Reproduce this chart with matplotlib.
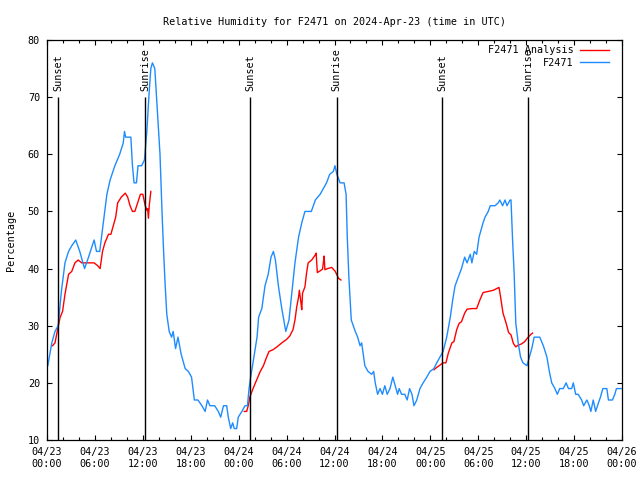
"""
plot.py - relative humidity for station F2471, observed vs analysis, with sunset/sunrise markers.
"""

from datetime import datetime, timedelta

import numpy as np
import matplotlib
matplotlib.use("Agg")
import matplotlib.pyplot as plt
import matplotlib.dates as mdates

START = datetime(2024, 4, 23)
NAN = float("nan")

# observed RH (hours since 04/23 00:00 UTC, percent)
blue_hours = [
    0.1, 0.6, 1.0, 1.4, 1.8, 2.25, 2.7, 3.1, 3.6, 4.1, 4.7, 5.2, 5.9, 6.2, 6.6,
    7.05, 7.5, 7.9, 8.5, 9.1, 9.55, 9.7, 9.85, 10.1, 10.5, 10.7, 10.9, 11.2, 11.4,
    11.85, 12.2, 12.5, 12.8, 13.0, 13.2, 13.5, 13.85, 14.15, 14.4, 14.6, 14.8,
    15.0, 15.3, 15.6, 15.8, 16.1, 16.4, 16.8, 17.3, 17.7, 18.1, 18.45, 18.9, 19.4,
    19.8, 20.1, 20.4, 21.0, 21.45, 21.75, 22.1, 22.5, 22.7, 23.0, 23.25, 23.45,
    23.75, 23.95, 24.4, 24.8, 25.1, 25.3, 25.5, 25.85, 26.3, 26.5, 26.9, 27.3,
    27.7, 28.05, 28.35, 28.6, 28.97, 29.4, 29.9, 30.3, 30.6, 31.05, 31.5, 31.9,
    32.3, 33.1, 33.6, 34.2, 34.6, 35.0, 35.4, 35.85, 36.06, 36.3, 36.7, 37.2,
    37.45, 37.6, 37.8, 38.1, 38.6, 38.9, 39.2, 39.4, 39.6, 39.8, 40.2, 40.65,
    40.9, 41.1, 41.4, 41.7, 42.0, 42.3, 42.6, 42.95, 43.3, 43.6, 43.9, 44.1,
    44.4, 44.8, 45.1, 45.4, 45.7, 45.95, 46.3, 46.7, 47.1, 47.55, 47.96, 48.45,
    48.8, 49.2, 49.6, 50.05, 50.5, 50.8, 51.1, 51.5, 51.9, 52.3, 52.6, 53.0,
    53.2, 53.5, 53.8, 54.1, 54.6, 54.85, 55.25, 55.5, 56.1, 56.5, 56.7, 57.05,
    57.35, 57.6, 57.98, 58.1, 58.3, 58.5, 58.7, 59.0, 59.3, 59.6, 60.1, 60.4,
    60.7, 61.0, 61.7, 62.15, 62.6, 62.9, 63.2, 63.6, 63.9, 64.2, 64.65, 65.0,
    65.3, 65.7, 65.9, 66.2, 66.5, 66.95, 67.2, 67.6, 67.9, 68.1, 68.4, 68.7,
    69.05, 69.3, 69.6, 70.1, 70.3, 70.8, 71.1, 71.3, 71.9,
]
blue_rh = [
    23, 27, 29, 30, 36, 41, 43, 44, 45, 43, 40, 42, 45, 43, 43,
    48, 53, 55.5, 58, 60, 62, 64, 63, 63, 63, 58, 55, 55, 58,
    58, 59, 64, 71, 75, 76, 75, 67, 60, 50, 43, 37,
    32, 29, 28, 29, 26, 28, 25, 22.5, 22, 21, 17, 17, 16,
    15, 17, 16, 16, 15, 14, 16, 16, 14, 12, 13, 12,
    12, 14, 15, 16, 16, 19, 21, 24, 28, 31.5, 33, 37,
    39, 42, 43, 41.5, 37, 33, 29, 31, 35, 41, 45.5, 48,
    50, 50, 52, 53, 54, 55, 56.5, 57, 58, 56.5, 55, 55,
    53, 45.5, 38.5, 31, 29, 28, 26.5, 27, 25, 23, 22, 21.5,
    22, 20, 18, 19, 18, 19.5, 18, 19, 21, 19.5, 18, 19,
    18, 18, 17, 19, 18, 16, 17, 19, 20, 21, 22, 22.5,
    23.5, 24.5, 25.5, 28, 31.5, 34.5, 37, 38.5, 40, 42, 41, 42.5,
    41, 43, 42.5, 45.5, 48, 49, 50, 51, 51, 51.5, 52, 51,
    52, 51, 52, 52, 45, 39, 30.5, 27, 24.5, 23.5, 23, 24.5,
    26, 28, 28, 26.5, 24.5, 22, 20, 19, 18, 19, 19, 20,
    19, 19, 20, 18, 18, 17, 16, 17, 16, 15, 17, 15,
    16.5, 17.5, 19, 19, 17, 17, 18, 19, 19,
]

# analysis RH, NaN marks the gaps between the three daytime runs
red_hours = [
    0.7, 1.0, 1.35, 1.65, 1.95, 2.25, 2.7, 3.1, 3.5, 3.9, 4.35, 4.75, 5.4, 5.9,
    6.35, 6.65, 6.95, 7.25, 7.7, 8.0, 8.3, 8.6, 8.85, 9.3, 9.8, 10.1, 10.4, 10.7,
    11.0, 11.35, 11.7, 12.0, 12.3, 12.5, 12.6, 12.7, 12.8, 13.0,
    18.0,
    24.7, 25.0, 25.2, 25.4, 25.8, 26.25, 26.7, 27.1, 27.5, 27.8, 28.3, 28.8, 29.4,
    30.0, 30.4, 30.8, 31.05, 31.27, 31.5, 31.6, 31.8, 31.9, 32.0, 32.3, 32.5,
    32.7, 33.15, 33.6, 33.7, 33.85, 34.2, 34.5, 34.6, 34.7, 34.8, 35.15, 35.65,
    36.1, 36.5, 36.8,
    42.0,
    48.45, 48.8, 49.2, 49.6, 49.95, 50.25, 50.7, 50.95, 51.3, 51.6, 51.9, 52.3,
    52.6, 53.2, 53.8, 54.2, 54.6, 55.25, 55.9, 56.3, 56.6, 56.8, 57.1, 57.5,
    57.8, 58.1, 58.4, 58.7, 59.0, 59.4, 59.8, 60.2, 60.6, 60.8,
]
red_rh = [
    26.5, 27, 29.5, 31.5, 32.5, 35.5, 39, 39.5, 41, 41.5, 41, 41, 41, 41,
    40.5, 40, 43, 44.5, 46, 46, 47.5, 49, 51.5, 52.5, 53.2, 52.5, 51, 50,
    50, 51.5, 53, 53, 51, 50.2, 50.5, 48.8, 51, 53.5,
    NAN,
    15, 15, 16, 17.5, 19, 20.5, 22, 23, 24.5, 25.5, 25.8, 26.3, 27,
    27.6, 28.2, 29.3, 31, 33.3, 35, 36.2, 34, 32.8, 35.7, 36.8, 39.2,
    41, 41.5, 42.4, 42.7, 39.3, 39.6, 39.9, 41, 42.2, 39.8, 40, 40.2,
    39.5, 38.3, 38,
    NAN,
    22.3, 22.7, 23.1, 23.5, 23.5, 25.2, 27, 27.2, 29.3, 30.4, 30.7, 32.2,
    32.9, 33, 33, 34.5, 35.8, 36, 36.2, 36.5, 36.7, 35, 32.2, 30.4,
    28.8, 28.4, 26.9, 26.3, 26.6, 26.8, 27.2, 27.9, 28.5, 28.7,
]

sun_labels = ["Sunset", "Sunrise", "Sunset", "Sunrise", "Sunset", "Sunrise"]
sun_times = ["2024-04-23 01:25", "2024-04-23 12:18", "2024-04-24 01:27",
             "2024-04-24 12:17", "2024-04-25 01:28", "2024-04-25 12:15"]

BLUE = "#1e8cff"
RED = "#ff0000"
FONT = "DejaVu Sans Mono"
FS = 7.3


def to_times(hours):
    return [START + timedelta(hours=h) for h in hours]


fig = plt.figure(figsize=(6.4, 4.8), dpi=100)
ax = fig.add_axes([47 / 640, 40 / 480, 575 / 640, 400 / 480])

ax.plot(to_times(red_hours), np.array(red_rh, dtype=float), color=RED,
        lw=1.0, label="F2471 Analysis")
ax.plot(to_times(blue_hours), blue_rh, color=BLUE, lw=1.0, label="F2471")

for lab, t in zip(sun_labels, sun_times):
    tt = datetime.strptime(t, "%Y-%m-%d %H:%M")
    ax.vlines(tt, 10, 70, color="black", lw=1.0, zorder=3)
    ax.text(tt, 71, lab, rotation=90, ha="center", va="bottom",
            fontsize=FS, family=FONT)

ax.set_xlim(START, START + timedelta(hours=72))
ax.set_ylim(10, 80)
ax.set_yticks(range(10, 81, 10))

ax.xaxis.set_major_locator(mdates.HourLocator(byhour=range(0, 24, 6)))
ax.xaxis.set_minor_locator(mdates.HourLocator(byhour=range(0, 24, 2)))
ax.xaxis.set_major_formatter(mdates.DateFormatter("%m/%d\n%H:%M"))

ax.tick_params(which="both", direction="in", top=True, right=True,
               labelsize=FS, width=0.8)
ax.tick_params(which="major", length=3.6, pad=5)
ax.tick_params(which="minor", length=2.4)
for lbl in ax.get_xticklabels() + ax.get_yticklabels():
    lbl.set_family(FONT)
    lbl.set_linespacing(1.3)
for sp in ax.spines.values():
    sp.set_linewidth(0.9)

ax.set_title("Relative Humidity for F2471 on 2024-Apr-23 (time in UTC)",
             fontsize=FS, family=FONT, pad=11)
fig.text(11 / 640, 0.5, "Percentage", rotation=90, ha="center", va="center",
         fontsize=FS, family=FONT)

# gnuplot-style key: label first, sample line after it
leg = ax.legend(loc="upper right", bbox_to_anchor=(1 - 6 / 575, 1 + 2 / 400),
                frameon=False, markerfirst=False,
                prop={"family": FONT, "size": FS}, handlelength=2.9,
                borderaxespad=0.3, labelspacing=0.25, handletextpad=0.6)

fig.savefig("out.png", dpi=100)
